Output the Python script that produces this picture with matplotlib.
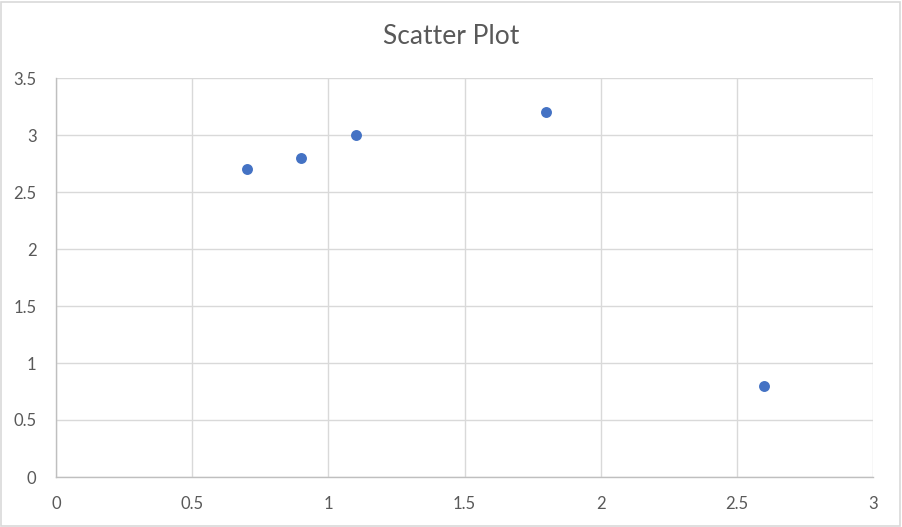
import matplotlib
matplotlib.use("Agg")
import matplotlib.pyplot as plt
from matplotlib.patches import Rectangle

# values
x_vals = [0.7, 0.9, 1.1, 1.8, 2.6]
y_vals = [2.7, 2.8, 3.0, 3.2, 0.8]
x_ticks = [0, 0.5, 1, 1.5, 2, 2.5, 3]
y_ticks = [0, 0.5, 1, 1.5, 2, 2.5, 3, 3.5]
tick_labels_x = ["0", "0.5", "1", "1.5", "2", "2.5", "3"]
tick_labels_y = ["0", "0.5", "1", "1.5", "2", "2.5", "3", "3.5"]

plt.rcParams['font.family'] = ['Lato', 'DejaVu Sans']

fig = plt.figure(figsize=(9.02, 5.27), dpi=100)
ax = fig.add_axes([56 / 902, 50 / 527, 817 / 902, 399 / 527])

ax.scatter(x_vals, y_vals, s=62, color='#4472C4', zorder=3, linewidths=0)

ax.set_xlim(0, 3)
ax.set_ylim(0, 3.5)
ax.set_xticks(x_ticks)
ax.set_xticklabels(tick_labels_x)
ax.set_yticks(y_ticks)
ax.set_yticklabels(tick_labels_y)
ax.grid(True, color='#d9d9d9', linewidth=1.0)
ax.set_axisbelow(True)

for side in ['top', 'right']:
    ax.spines[side].set_visible(False)
for side in ['left', 'bottom']:
    ax.spines[side].set_color('#bfbfbf')
    ax.spines[side].set_linewidth(1.0)

ax.tick_params(length=0, labelsize=12, colors='#595959')
ax.tick_params(axis='x', pad=14)
ax.tick_params(axis='y', pad=14)

fig.text(0.5, 1 - 37 / 527, "Scatter Plot", ha='center', va='center',
         fontsize=19, color='#595959')

# light frame around the whole chart
fig.patches.append(Rectangle((0.001, 0.001), 0.997, 0.996, transform=fig.transFigure,
                             fill=False, edgecolor='#d9d9d9', linewidth=1.2))

fig.savefig("out.png", dpi=100, facecolor='white')
